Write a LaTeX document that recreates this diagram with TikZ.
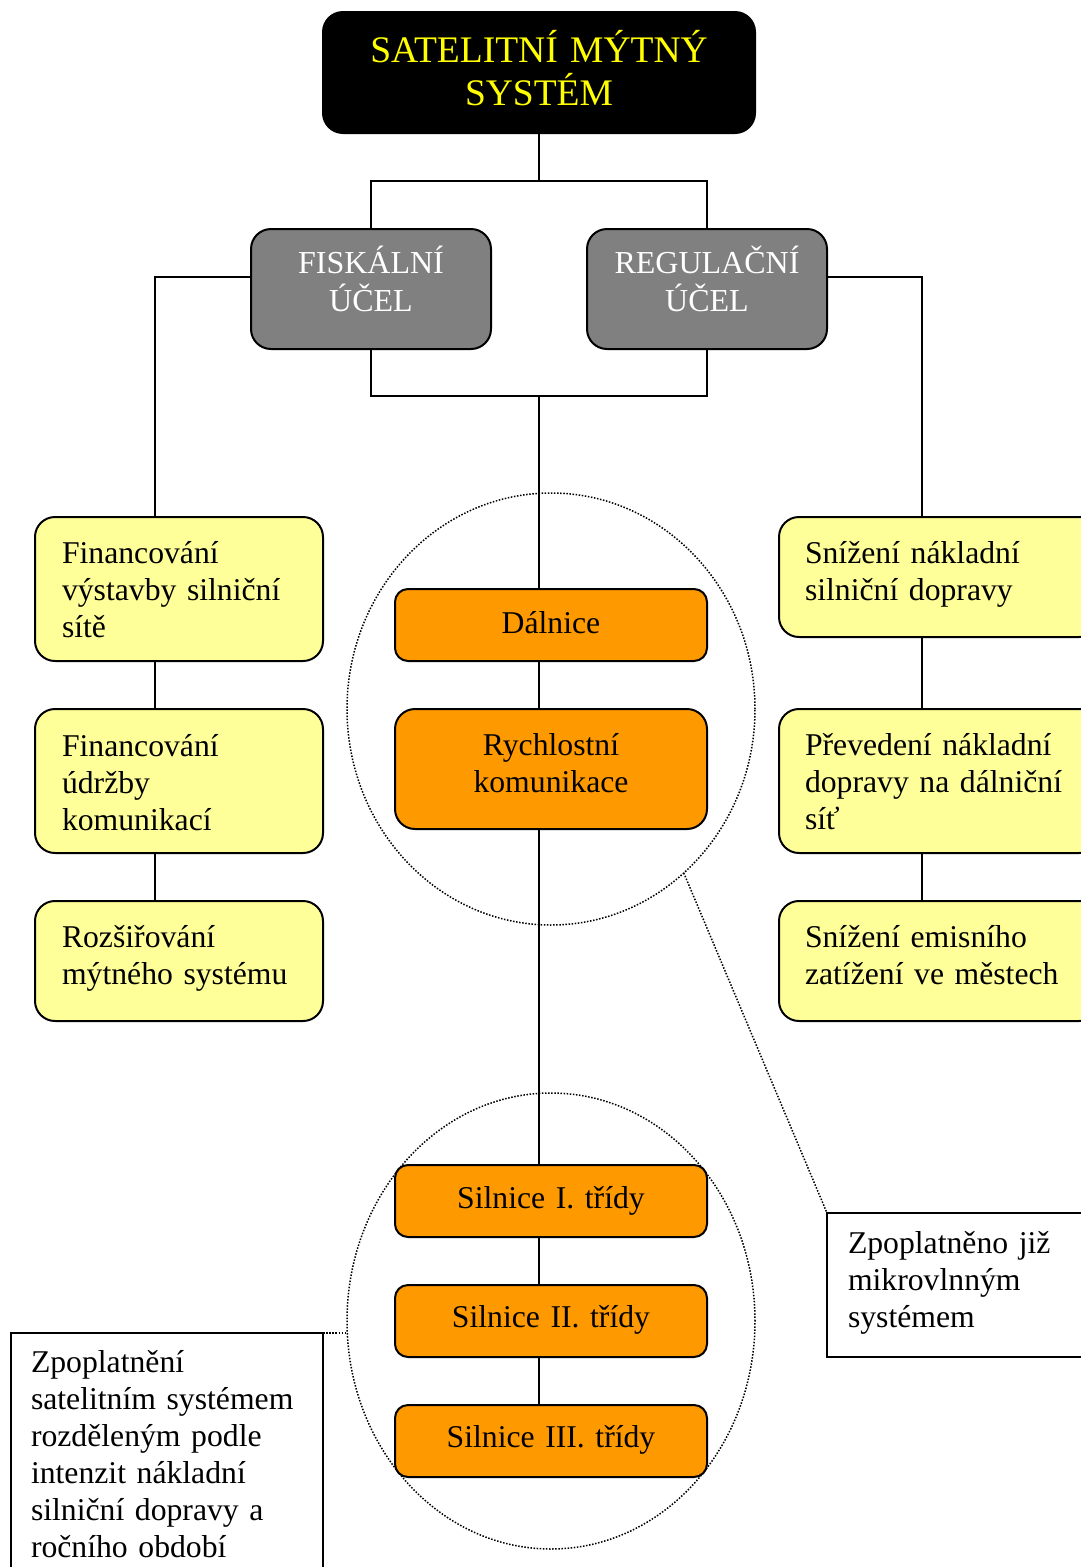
\documentclass[tikz,border=0pt]{standalone}
\usepackage{fontspec}
\setmainfont{Liberation Serif}
\usetikzlibrary{shapes.geometric,calc}
\definecolor{yelfill}{HTML}{FFFF99}
\definecolor{orfill}{HTML}{FF9900}
\definecolor{grfill}{HTML}{808080}
\definecolor{ttext}{HTML}{FFFF00}
\pgfdeclarelayer{bg}
\pgfdeclarelayer{paper}
\pgfsetlayers{paper,bg,main}
\newcommand\bodytxt{\fontsize{31.7pt}{37pt}\selectfont}
\tikzset{
 basebox/.style={draw, line width=2pt, anchor=north west, inner ysep=0pt, outer sep=0pt},
 topbox/.style={basebox, fill=black, text=ttext, rounded corners=20pt, inner xsep=0pt, text width=432pt, align=center, font=\fontsize{37.5pt}{43.5pt}\selectfont},
 graybox/.style={basebox, fill=grfill, text=white, rounded corners=20pt, inner xsep=0pt, text width=240pt, align=center, font=\fontsize{32pt}{38pt}\selectfont, text height=44pt, text depth=76pt},
 leftbox/.style={basebox, fill=yelfill, rounded corners=20pt, inner xsep=27pt, text width=234pt, align=left, font=\bodytxt},
 rightbox/.style={basebox, fill=yelfill, rounded corners=20pt, inner xsep=26pt, text width=268pt, align=left, font=\bodytxt},
 orbox/.style={basebox, fill=orfill, rounded corners=13pt, inner xsep=0pt, text width=312pt, align=center, font=\bodytxt},
 callbox/.style={basebox, fill=white, align=left, font=\bodytxt},
 conn/.style={line width=2pt},
 ell/.style={draw, ellipse, inner sep=0pt, outer sep=0pt, line width=1.5pt, dash pattern=on 1.5pt off 1.6pt},
 dotline/.style={line width=1.5pt, dash pattern=on 1.5pt off 1.6pt}
}
\begin{document}
\begin{tikzpicture}[x=1pt,y=-1pt]
\useasboundingbox (0,0) rectangle (1081,1567);
\begin{pgfonlayer}{paper}
\fill[white] (0,0) rectangle (1081,1567);
\end{pgfonlayer}

\node[ell, minimum width=408pt, minimum height=432pt] (e1) at (551,709) {};
\node[ell, minimum width=408pt, minimum height=456pt] (e2) at (551,1321) {};

\node[topbox, text height=50pt, text depth=71pt] (sys) at (323,12) {SATELITNÍ MÝTNÝ\\SYSTÉM};
\node[graybox] (fis) at (251,229) {FISKÁLNÍ\\ÚČEL};
\node[graybox] (reg) at (587,229) {REGULAČNÍ\\ÚČEL};

\node[leftbox, text height=46pt, text depth=98pt] (l1) at (35,517) {Financování\\výstavby silniční\\sítě};
\node[leftbox, text height=47pt, text depth=97pt] (l2) at (35,709) {Financování\\údržby\\komunikací};
\node[leftbox, text height=46pt, text depth=74pt] (l3) at (35,901) {Rozšiřování\\mýtného systému};

\node[rightbox, text height=46pt, text depth=74pt] (r1) at (779,517) {Snížení nákladní\\silniční dopravy};
\node[rightbox, text height=46pt, text depth=98pt] (r2) at (779,709) {Převedení nákladní\\dopravy na dálniční\\síť};
\node[rightbox, text height=46pt, text depth=74pt] (r3) at (779,901) {Snížení emisního\\zatížení ve městech};

\node[orbox, text height=44pt, text depth=28pt] (d) at (395,589) {Dálnice};
\node[orbox, rounded corners=20pt, text height=46pt, text depth=74pt] (rk) at (395,709) {Rychlostní\\komunikace};
\node[orbox, text height=43pt, text depth=29pt] (s1) at (395,1165) {Silnice I. třídy};
\node[orbox, text height=42pt, text depth=30pt] (s2) at (395,1285) {Silnice II. třídy};
\node[orbox, text height=42pt, text depth=30pt] (s3) at (395,1405) {Silnice III. třídy};

\node[callbox, inner xsep=21pt, text width=260pt, text height=40pt, text depth=104pt] (rc) at (827,1213) {Zpoplatněno již\\mikrovlnným\\systémem};
\node[callbox, inner xsep=20pt, text width=272pt, text height=39pt, text depth=221pt] (lc) at (11,1333) {Zpoplatnění\\satelitním systémem\\rozděleným podle\\intenzit nákladní\\silniční dopravy a\\ročního období};

\coordinate (j1) at (539,181);
\coordinate (j2) at (539,396);
\coordinate (lx) at (155,277);
\coordinate (rx) at (922,277);
\coordinate (cx) at (539,0);

\begin{pgfonlayer}{bg}
\draw[conn] (sys.south) -- (sys.south |- j1);
\draw[conn] (fis.north) |- (j1) -| (reg.north);
\draw[conn] (fis.south) |- (j2) -| (reg.south);
\draw[conn] (j2) -- (d.north -| j2);
\draw[conn] (fis.west |- lx) -- (lx) -- (l1.north -| lx);
\draw[conn] (l1.south -| lx) -- (l2.north -| lx);
\draw[conn] (l2.south -| lx) -- (l3.north -| lx);
\draw[conn] (reg.east |- rx) -- (rx) -- (r1.north -| rx);
\draw[conn] (r1.south -| rx) -- (r2.north -| rx);
\draw[conn] (r2.south -| rx) -- (r3.north -| rx);
\draw[conn] (d.south -| cx) -- (rk.north -| cx);
\draw[conn] (rk.south -| cx) -- (s1.north -| cx);
\draw[conn] (s1.south -| cx) -- (s2.north -| cx);
\draw[conn] (s2.south -| cx) -- (s3.north -| cx);
\draw[dotline] (e1.-51.3) -- (rc.north west);
\draw[dotline] (lc.north east) -- (lc.north east -| e2.west);
\end{pgfonlayer}
\end{tikzpicture}
\end{document}
